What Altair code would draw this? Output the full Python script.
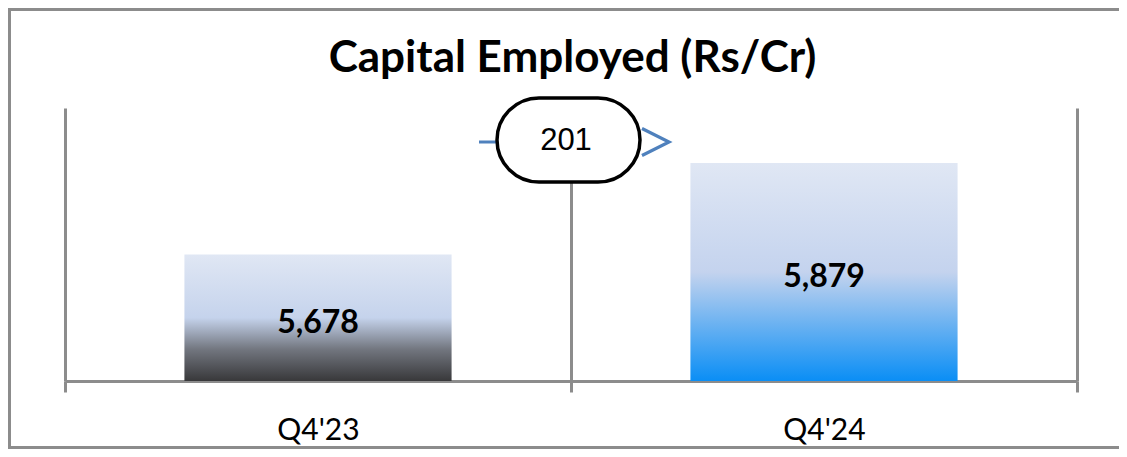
import altair as alt
import pandas as pd

# ---- data ----
categories = ["Q4'23", "Q4'24"]
values = [5678, 5879]
value_labels = ["5,678", "5,879"]
y_domain = [5400, 6000]
title_text = "Capital Employed (Rs/Cr)"

change = values[1] - values[0]

df = pd.DataFrame({"period": categories, "value": values, "label": value_labels})
df["mid"] = (df["value"] + y_domain[0]) / 2
ann = pd.DataFrame({"change": [str(change)]})

W, H = 1012, 273
GRAY = "#8c8c8c"
BLUE = "#4f81bd"

x_enc = alt.X(
    "period:N",
    sort=categories,
    scale=alt.Scale(domain=categories, paddingInner=0, paddingOuter=0),
    axis=alt.Axis(
        title=None, tickBand="extent", grid=True, gridColor=GRAY, gridWidth=3,
        domainColor=GRAY, domainWidth=3, tickColor=GRAY, tickWidth=3, tickSize=11,
        labelFont="Lato", labelFontSize=30, labelColor="black",
        labelBaseline="middle", labelPadding=38, labelAngle=0,
    ),
)
y_scale = alt.Scale(domain=y_domain, zero=False, nice=False)

grad_prev = alt.Gradient(
    gradient="linear", x1=0, x2=0, y1=0, y2=1,
    stops=[
        alt.GradientStop(offset=0, color="#e0e7f4"),
        alt.GradientStop(offset=0.5, color="#c5d3ec"),
        alt.GradientStop(offset=0.75, color="#72767f"),
        alt.GradientStop(offset=1, color="#38383a"),
    ],
)
grad_curr = alt.Gradient(
    gradient="linear", x1=0, x2=0, y1=0, y2=1,
    stops=[
        alt.GradientStop(offset=0, color="#e0e7f4"),
        alt.GradientStop(offset=0.5, color="#c4d3ee"),
        alt.GradientStop(offset=1, color="#0a8ef5"),
    ],
)

base = alt.Chart(df)

# outer frame (left, top, bottom edges; right edge runs off the picture)
frame_left = alt.Chart(ann).mark_rule(color=GRAY, strokeWidth=3).encode(
    x=alt.value(-55.5), y=alt.value(-98.5), y2=alt.value(339.5)
)
frame_top = alt.Chart(ann).mark_rule(color=GRAY, strokeWidth=3).encode(
    x=alt.value(-57), x2=alt.value(1100), y=alt.value(-98.5)
)
frame_bottom = alt.Chart(ann).mark_rule(color=GRAY, strokeWidth=3).encode(
    x=alt.value(-57), x2=alt.value(1100), y=alt.value(339.5)
)

bar_prev = base.transform_filter(alt.datum.period == categories[0]).mark_bar(
    color=grad_prev, width=alt.RelativeBandSize(0.528)
).encode(
    x=x_enc,
    y=alt.Y("value:Q", scale=y_scale, axis=None),
    y2=alt.datum(y_domain[0]),
)
bar_curr = base.transform_filter(alt.datum.period == categories[1]).mark_bar(
    color=grad_curr, width=alt.RelativeBandSize(0.528)
).encode(
    x=x_enc,
    y=alt.Y("value:Q", scale=y_scale, axis=None),
    y2=alt.datum(y_domain[0]),
)

bar_text = base.mark_text(
    font="Lato", fontWeight="bold", fontSize=32, color="black", baseline="middle", dy=5
).encode(
    x=x_enc,
    y=alt.Y("mid:Q", scale=y_scale, axis=None),
    text="label:N",
)

shaft = alt.Chart(ann).mark_rule(color=BLUE, strokeWidth=3).encode(
    x=alt.value(414), x2=alt.value(434), y=alt.value(34)
)
stadium = alt.Chart(ann).mark_rect(
    fill="white", stroke="black", strokeWidth=3.5, cornerRadius=42
).encode(x=alt.value(432), x2=alt.value(575), y=alt.value(-10), y2=alt.value(74))
change_text = alt.Chart(ann).mark_text(
    font="Liberation Sans", fontSize=31, color="black", baseline="middle", align="center"
).encode(x=alt.value(501), y=alt.value(33), text="change:N")
chevron = alt.Chart(ann).mark_point(
    shape="M -1 -1 L 1 0 L -1 1", filled=False, size=729, strokeWidth=3.2, color=BLUE, opacity=1
).encode(x=alt.value(590.5), y=alt.value(34))

title = alt.Chart(ann).mark_text(
    text=title_text, font="Lato", fontWeight="bold", fontSize=44, color="black",
    baseline="alphabetic", align="center"
).encode(x=alt.value(507.5), y=alt.value(-36))

chart = alt.layer(
    frame_left, frame_top, frame_bottom, bar_prev, bar_curr, bar_text,
    shaft, stadium, change_text, chevron, title
).properties(
    width=W, height=H,
    autosize=alt.AutoSizeParams(type="none"),
    padding={"left": 57, "top": 100, "right": 42, "bottom": 68},
).configure_view(stroke=None)

chart.save("out.html", embed_options={"renderer": "svg", "actions": False})
